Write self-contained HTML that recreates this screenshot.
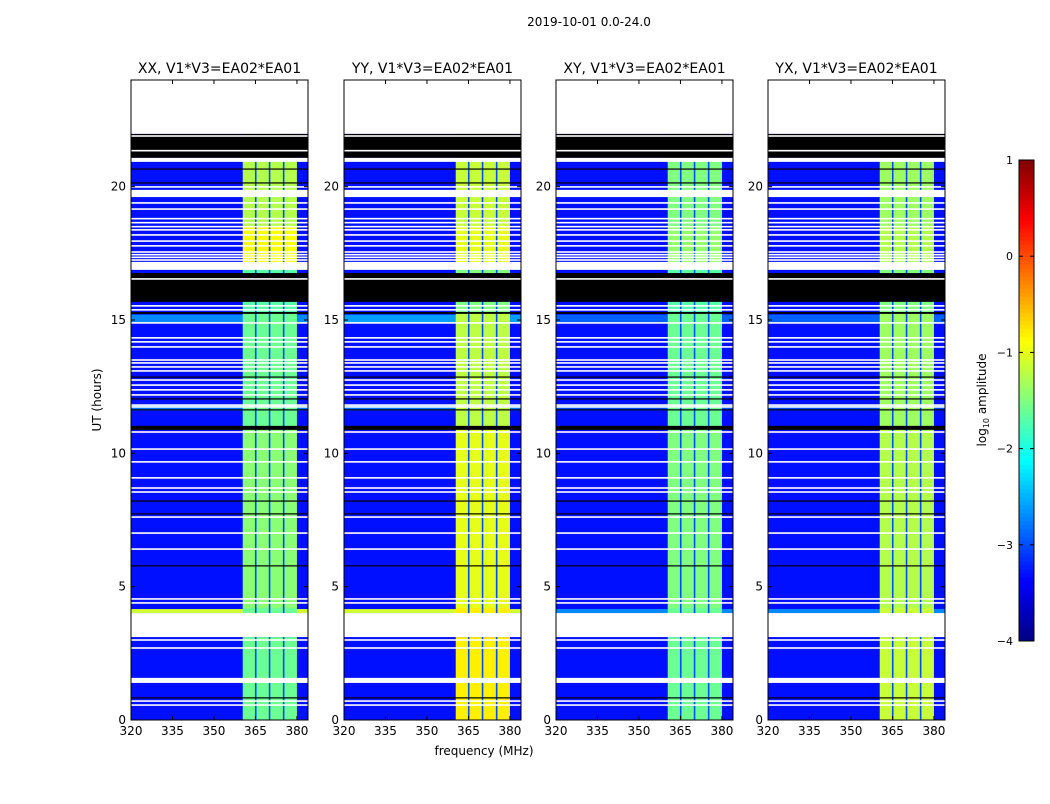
<!DOCTYPE html>
<html><head><meta charset="utf-8">
<style>
body{margin:0;background:#fff;font-family:"DejaVu Sans","Liberation Sans",sans-serif;}
svg text{font-family:"DejaVu Sans","Liberation Sans",sans-serif;fill:#000;}
</style></head>
<body>
<svg id="chart" width="1050" height="800" viewBox="0 0 1050 800" xmlns="http://www.w3.org/2000/svg">
<text x="589" y="26" font-size="12" text-anchor="middle">2019-10-01 0.0-24.0</text>
<g id="panels"></g>
<text x="484" y="755" font-size="12" text-anchor="middle">frequency (MHz)</text>
<text transform="translate(101,400) rotate(-90)" font-size="12" text-anchor="middle">UT (hours)</text>
<g id="cbar"></g>
<text transform="translate(986,400) rotate(-90)" font-size="12" text-anchor="middle">log<tspan font-size="8" dy="3">10</tspan><tspan dy="-3"> amplitude</tspan></text>
</svg>
<script>
const panelTitles=["XX, V1*V3=EA02*EA01","YY, V1*V3=EA02*EA01","XY, V1*V3=EA02*EA01","YX, V1*V3=EA02*EA01"];
const xTicks=[320,335,350,365,380];
const yTicks=[0,5,10,15,20];
const cbTicks=[1,0,-1,-2,-3,-4];
const bgLevel=-3.3;
const bandEdges=[360.4,365.1,370.1,375.2,380];
const bandTimes=[0,3.1,4.2,11,15.3,17,18.5,21];
const bandXX=[-1.6,-1.6,-1.45,-1.6,-1.7,-0.9,-1.25];
const bandYY=[-0.8,-0.8,-1.0,-1.2,-1.5,-1.0,-1.15];
const bandXY=[-1.6,-1.6,-1.5,-1.6,-1.7,-1.4,-1.5];
const bandYX=[-1.15,-1.15,-1.25,-1.35,-1.5,-1.25,-1.35];
const bandSeries=[bandXX,bandYY,bandXY,bandYX];
const gapLevel=-3.0;
const rowStart=[4.01,14.9,11.6];
const rowEnd=[4.16,15.2,11.8];
const rowXX=[-1.1,-2.7,-2.8];
const rowYY=[-1.1,-2.6,-2.8];
const rowXY=[-2.7,-2.9,-3.0];
const rowYX=[-2.7,-2.9,-3.0];
const rowSeries=[rowXX,rowYY,rowXY,rowYX];
const whiteStart=[21.98,20.93,19.61,16.88,3.11,1.39];
const whiteEnd=[24,21.08,19.88,17.18,4.01,1.58];
const blackStart=[21.08,15.68,10.88,15.23];
const blackEnd=[21.98,16.76,11.03,15.3];
const whiteLines=[21.9,21.35,16.54,15.53,15.38,19.99,19.39,19.16,18.8,18.65,18.5,18.38,18.19,17.96,17.78,17.55,17.45,17.35,17.25,14.89,14.33,14.18,13.99,13.5,13.39,13.24,13.09,12.75,12.56,12.38,12.19,11.81,11.74,10.8,10.16,9.68,9.08,8.7,8.55,7.61,7.01,6.41,4.54,4.39,3.0,2.7,0.71,0.56];
const blackLines=[20.66,20.14,12.86,12.04,11.63,8.21,7.73,5.78,0.83];

const SVGNS="http://www.w3.org/2000/svg";
const panelX=[131,344,556,768];
const PW=177,PT=80,PB=720,FMIN=320,FMAX=384,HMAX=24,VMIN=-4,VMAX=1;
function jet(v){let t=(v-VMIN)/(VMAX-VMIN);t=Math.max(0,Math.min(1,t));
 const c=x=>Math.round(255*Math.max(0,Math.min(1,x)));
 const r=Math.min(4*t-1.5,-4*t+4.5),g=Math.min(4*t-0.5,-4*t+3.5),b=Math.min(4*t+0.5,-4*t+2.5);
 return `rgb(${c(r)},${c(g)},${c(b)})`;}
function el(tag,attrs,parent){const e=document.createElementNS(SVGNS,tag);for(const k in attrs)e.setAttribute(k,attrs[k]);parent.appendChild(e);return e;}
const yScale=h=>PB-(h/HMAX)*(PB-PT);
const root=document.getElementById('panels');
panelTitles.forEach((title,p)=>{
 const x0=panelX[p];const xScale=f=>x0+(f-FMIN)/(FMAX-FMIN)*PW;
 const g=el('g',{},root);
 
 
 const bg=el('rect',{x:x0,y:PT,width:PW,height:PB-PT,fill:jet(bgLevel)},g);
 
 
 rowStart.forEach((s,i)=>{const r=el('rect',{x:x0,y:yScale(rowEnd[i]),width:PW,height:yScale(s)-yScale(rowEnd[i]),fill:jet(rowSeries[p][i])},g);
  
  });
 const band=bandSeries[p];
 for(let t=0;t<bandTimes.length;t++){const h0=bandTimes[t],h1=t+1<bandTimes.length?bandTimes[t+1]:HMAX;
  for(let b=0;b<bandEdges.length-1;b++){const f0=bandEdges[b],f1=bandEdges[b+1];
   const r=el('rect',{x:xScale(f0),y:yScale(h1),width:xScale(f1)-xScale(f0),height:yScale(h0)-yScale(h1),fill:jet(band[t])},g);
   
   }}
 for(let b=1;b<bandEdges.length-1;b++){const gp=el('rect',{x:xScale(bandEdges[b])-0.8,y:PT,width:1.6,height:PB-PT,fill:jet(gapLevel)},g);
  
  }
 blackStart.forEach((s,i)=>{const r=el('rect',{x:x0,y:yScale(blackEnd[i]),width:PW,height:yScale(s)-yScale(blackEnd[i]),fill:'#000'},g);
  
  });
 whiteStart.forEach((s,i)=>{const r=el('rect',{x:x0,y:yScale(whiteEnd[i]),width:PW,height:yScale(s)-yScale(whiteEnd[i]),fill:'#fff'},g);
  
  });
 blackLines.forEach(h=>{const r=el('rect',{x:x0,y:yScale(h)-0.6,width:PW,height:1.2,fill:'#000'},g);
  
  });
 whiteLines.forEach(h=>{const r=el('rect',{x:x0,y:yScale(h)-0.8,width:PW,height:1.6,fill:'#fff'},g);
  
  });
 const fr=el('rect',{x:x0,y:PT,width:PW,height:PB-PT,fill:'none',stroke:'#000','stroke-width':1},g);
 
 
 const tt=el('text',{x:x0+PW/2,y:PT-7,'font-size':14,'text-anchor':'middle'},g);tt.textContent=title;
 
 
 xTicks.forEach(f=>{const x=xScale(f);
  el('line',{x1:x,x2:x,y1:PB,y2:PB-4,stroke:'#000'},g);el('line',{x1:x,x2:x,y1:PT,y2:PT+4,stroke:'#000'},g);
  const t=el('text',{x:x,y:PB+15,'font-size':12,'text-anchor':'middle'},g);t.textContent=f;
  
  });
 yTicks.forEach(h=>{const y=yScale(h);
  el('line',{x1:x0,x2:x0+4,y1:y,y2:y,stroke:'#000'},g);el('line',{x1:x0+PW,x2:x0+PW-4,y1:y,y2:y,stroke:'#000'},g);
  const t=el('text',{x:x0-5,y:y+4,'font-size':12,'text-anchor':'end'},g);t.textContent=h;
  
  });
});
// colorbar
const cb=document.getElementById('cbar');


const CBX=1019,CBW=15,CBT=160,CBB=641;
const cbY=v=>CBB-(v-VMIN)/(VMAX-VMIN)*(CBB-CBT);
for(let i=0;i<120;i++){const v0=VMIN+i*(VMAX-VMIN)/120,v1=VMIN+(i+1)*(VMAX-VMIN)/120;
 el('rect',{x:CBX,y:cbY(v1),width:CBW,height:cbY(v0)-cbY(v1)+0.5,fill:jet((v0+v1)/2)},cb);}
el('rect',{x:CBX,y:CBT,width:CBW,height:CBB-CBT,fill:'none',stroke:'#000'},cb);
cbTicks.forEach(v=>{const y=cbY(v);
 el('line',{x1:CBX,x2:CBX+4,y1:y,y2:y,stroke:'#000'},cb);el('line',{x1:CBX+CBW,x2:CBX+CBW-4,y1:y,y2:y,stroke:'#000'},cb);
 const t=el('text',{x:1013,y:y+4,'font-size':11,'text-anchor':'end'},cb);t.textContent=v<0?'\u2212'+(-v):v;
 
 });
</script>
</body></html>
